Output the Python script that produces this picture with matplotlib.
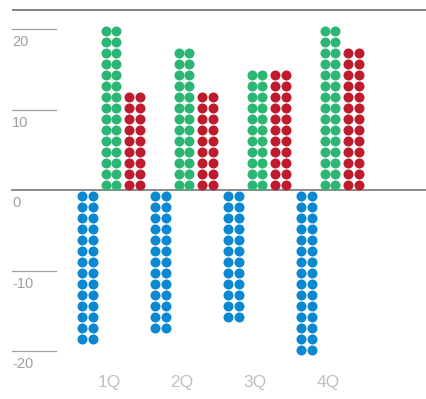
import numpy as np
from matplotlib import pyplot as plt

quarters = ["1Q", "2Q", "3Q", "4Q"]
income   = [20.5, 17.8, 15.0, 20.5]      # green
profit   = [12.3, 12.3, 15.0, 17.8]      # red
costs    = [-19.1, -17.8, -16.4, -20.5]  # blue
yticks   = [20, 10, 0, -10, -20]

plt.rcParams['font.family'] = ['Liberation Sans', 'DejaVu Sans']

fig = plt.figure(figsize=(4.26, 3.99), dpi=100)
ax = fig.add_axes([0, 0, 1, 1])
ax.axis('off')

# one data unit is about 8 px, one quarter is 73 px wide
ax.set_xlim(-111 / 73, (426 - 111) / 73)
ax.set_ylim(-209 / 8.05, 190 / 8.05)

step = 11 / 8.05      # vertical distance between dot rows
half_gap = 0.0733     # half the distance between the two dot columns

series = [(costs, -0.322, '#0a88d2'),
          (income, 0.0, '#2bb673'),
          (profit, 0.322, '#be1b2c')]

for values, offset, color in series:
    xs, ys = [], []
    for i, v in enumerate(values):
        n = int(round(abs(v) / step))
        rows = np.sign(v) * (np.arange(n) + 0.5) * step
        for dx in (-half_gap, half_gap):
            xs.extend([i + offset + dx] * n)
            ys.extend(rows)
    ax.scatter(xs, ys, s=52, color=color, linewidths=0, zorder=3)

# frame line at the top and the zero line
left = 12 / 426
ax.plot([left, 1], [1 - 10 / 399] * 2, transform=ax.transAxes,
        color='#777777', lw=1.3, solid_capstyle='butt')
ax.axhline(0, xmin=left, xmax=1, color='#808080', lw=1.3, zorder=2)

# short tick lines with labels underneath
for t in yticks:
    if t != 0:
        ax.axhline(t, xmin=left, xmax=56 / 426, color='#a0a0a0', lw=0.9)
    ax.annotate(str(t), xy=(left, t), xycoords=ax.get_yaxis_transform(),
                xytext=(0, -4.5), textcoords='offset points',
                ha='left', va='top', fontsize=10.5, color='#a0a0a0')

for i, q in enumerate(quarters):
    ax.text(i - 0.03, 1 - 383 / 399, q, transform=ax.get_xaxis_transform(),
            ha='center', va='center', fontsize=12.5, color='#c0c0c0')

plt.savefig('out.png', dpi=100)
